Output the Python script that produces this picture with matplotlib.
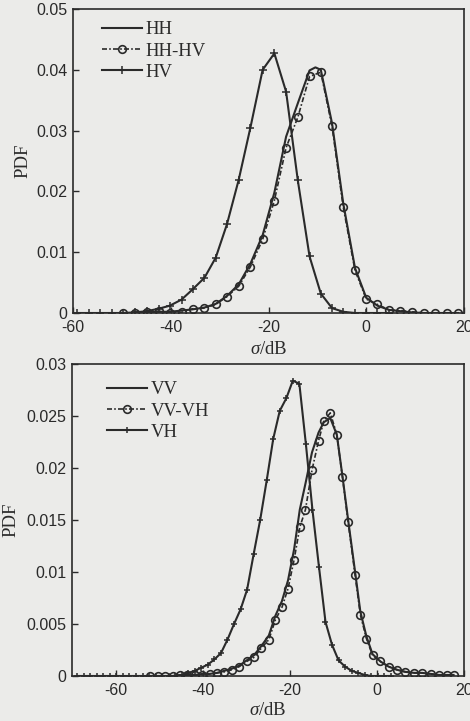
import matplotlib
matplotlib.use("Agg")
import matplotlib.pyplot as plt
from matplotlib.ticker import FixedLocator, FixedFormatter

# ---------------- data: top panel ----------------
hv_x = [-59.1, -56.7, -54.4, -52.0, -49.7, -47.3, -44.9, -42.5, -40.2, -37.8,
        -35.5, -33.1, -30.8, -28.5, -26.1, -23.7, -21.2, -18.8, -16.4, -14.0,
        -11.6, -9.3, -7.0, -4.7, -2.3, 0.0, 2.3, 4.7]
hv_y = [0, 0, 0, 0, 0, 0.0001, 0.0003, 0.0007, 0.0012, 0.0022,
        0.0039, 0.0058, 0.0091, 0.0146, 0.0219, 0.0305, 0.0400, 0.0427, 0.0364, 0.0218,
        0.0093, 0.0032, 0.0008, 0.0002, 0, 0, 0, 0]

hhhv_x = [-49.7, -47.3, -44.9, -42.5, -40.2, -37.8, -35.5, -33.1, -30.8, -28.5,
          -26.1, -23.7, -21.2, -18.8, -16.4, -14.0, -11.6, -9.3, -7.0, -4.7,
          -2.3, 0.0, 2.3, 4.7, 7.0, 9.4, 11.8, 14.1, 16.5, 18.8]
hhhv_y = [0, 0, 0.0002, 0.0003, 0.0, 0.0001, 0.0007, 0.0008, 0.0014, 0.0027,
          0.0044, 0.0076, 0.0121, 0.0185, 0.0272, 0.0322, 0.0389, 0.0396, 0.0307, 0.0174,
          0.0070, 0.0023, 0.0014, 0.0005, 0.0004, 0.0002, 0, 0, 0, 0]

hh_x = [-49.7, -47.3, -44.9, -42.5, -40.2, -37.8, -35.5, -33.1, -30.8, -28.5,
        -26.1, -23.7, -21.2, -18.8, -16.4, -14.0, -11.6, -10.4, -9.3, -7.0, -4.7,
        -2.3, 0.0, 2.3, 4.7, 7.0, 9.4, 11.8, 14.1, 16.5, 18.8]
hh_y = [0, 0, 0.0001, 0.0002, 0.0002, 0.0004, 0.0006, 0.0009, 0.0015, 0.0028,
        0.0047, 0.0081, 0.0128, 0.0198, 0.0290, 0.0345, 0.0399, 0.0404, 0.0400, 0.0312, 0.0180,
        0.0074, 0.0025, 0.0012, 0.0005, 0.0003, 0.0001, 0, 0, 0, 0]

# ---------------- data: bottom panel ----------------
vh_x = [-68.8, -67.3, -65.8, -64.3, -62.8, -61.3, -59.8, -58.3, -56.8, -55.3,
        -53.8, -52.3, -50.8, -49.3, -47.8, -46.3, -44.8, -43.3, -41.8, -40.3,
        -38.8, -37.3, -35.8, -34.3, -32.8, -31.3, -29.8, -28.3, -26.8, -25.3,
        -23.8, -22.3, -20.8, -19.3, -17.8, -16.3, -14.8, -13.3, -11.8, -10.3,
        -8.8, -7.3, -5.8, -4.3, -2.8, -1.3, 0.2, 1.7, 3.2]
vh_y = [0, 0, 0, 0, 0, 0, 0, 0, 0, 0,
        0, 0, 0, 0, 0, 0, 0.0001, 0.0003, 0.0005, 0.0008,
        0.0011, 0.0016, 0.0022, 0.0035, 0.0050, 0.0064, 0.0083, 0.0117, 0.0150, 0.0188,
        0.0228, 0.0255, 0.0267, 0.0284, 0.0281, 0.0223, 0.0160, 0.0105, 0.0052, 0.0030,
        0.0015, 0.0009, 0.0005, 0.0003, 0.0001, 0, 0, 0, 0]

vvvh_x = [-52.0, -50.3, -48.6, -46.9, -45.2, -43.5, -41.8, -40.1, -38.4, -36.7,
          -35.0, -33.3, -31.6, -29.9, -28.2, -26.5, -24.8, -23.3, -21.8, -20.4,
          -19.0, -17.7, -16.4, -14.9, -13.4, -12.2, -10.7, -9.2, -7.9, -6.6,
          -5.0, -3.8, -2.4, -1.0, 0.8, 2.7, 4.6, 6.5, 8.5, 10.4,
          12.4, 14.3, 16.2, 17.6]
vvvh_y = [0, 0, 0, 0, 0.0001, 0.0001, 0.0001, 0.0001, 0.0002, 0.0003,
          0.0004, 0.0006, 0.0009, 0.0014, 0.0018, 0.0027, 0.0035, 0.0054, 0.0066, 0.0084,
          0.0112, 0.0143, 0.0160, 0.0198, 0.0226, 0.0245, 0.0253, 0.0232, 0.0191, 0.0148,
          0.0097, 0.0059, 0.0036, 0.0020, 0.0014, 0.0009, 0.0006, 0.0004, 0.0003, 0.0003,
          0.0002, 0.0001, 0.0001, 0.0001]

vv_x = vvvh_x
vv_y = [0, 0, 0, 0, 0.0001, 0.0001, 0.0001, 0.0002, 0.0002, 0.0003,
        0.0005, 0.0007, 0.0010, 0.0015, 0.0020, 0.0029, 0.0039, 0.0058, 0.0072, 0.0092,
        0.0122, 0.0160, 0.0185, 0.0215, 0.0234, 0.0244, 0.0248, 0.0232, 0.0192, 0.0150,
        0.0100, 0.0062, 0.0038, 0.0021, 0.0014, 0.0009, 0.0006, 0.0004, 0.0003, 0.0003,
        0.0002, 0.0001, 0.0001, 0.0001]

top_labels = ["HH", "HH-HV", "HV"]
bot_labels = ["VV", "VV-VH", "VH"]
xticks = [-60, -40, -20, 0, 20]
xtick_labels = ["-60", "-40", "-20", "0", "20"]
top_yticks = [0, 0.01, 0.02, 0.03, 0.04, 0.05]
top_ytick_labels = ["0", "0.01", "0.02", "0.03", "0.04", "0.05"]
bot_yticks = [0, 0.005, 0.01, 0.015, 0.02, 0.025, 0.03]
bot_ytick_labels = ["0", "0.005", "0.01", "0.015", "0.02", "0.025", "0.03"]

# ---------------- style ----------------
BG = "#ebebe9"
INK = "#2a2a2a"
SERIF = ["Liberation Serif", "DejaVu Serif"]
SANS = ["Liberation Sans", "DejaVu Sans"]
DASHDOT = (0, (3, 1.3, 1, 1.3))

plt.rcParams["mathtext.fontset"] = "custom"
plt.rcParams["mathtext.it"] = "Liberation Serif:italic"
plt.rcParams["mathtext.rm"] = "Liberation Serif"

fig = plt.figure(figsize=(4.70, 7.21), dpi=100, facecolor=BG)
W, H = 470.0, 721.0


def make_axes(l, t, r, b):
    return fig.add_axes([l / W, 1 - b / H, (r - l) / W, (b - t) / H], facecolor=BG)


def style(ax, xlim, ylim, yt, ytl, ylab_x, xlab_pad):
    ax.set_xlim(*xlim)
    ax.set_ylim(*ylim)
    ax.xaxis.set_major_locator(FixedLocator(xticks))
    ax.xaxis.set_major_formatter(FixedFormatter(xtick_labels))
    ax.yaxis.set_major_locator(FixedLocator(yt))
    ax.yaxis.set_major_formatter(FixedFormatter(ytl))
    ax.tick_params(direction="in", length=4, width=1, colors=INK, labelsize=11.5,
                   top=False, right=False)
    ax.tick_params(axis="x", pad=5)
    ax.tick_params(axis="y", pad=4)
    for lab in ax.get_xticklabels() + ax.get_yticklabels():
        lab.set_family(SANS)
    for s in ax.spines.values():
        s.set_color(INK)
        s.set_linewidth(1.2)
    ax.set_xlabel(r"$\sigma$/dB", family=SERIF, fontsize=13.5, color=INK,
                  labelpad=xlab_pad)
    ax.set_ylabel("PDF", family=SERIF, fontsize=13.5, color=INK)
    ax.yaxis.set_label_coords(ylab_x, 0.5)


def draw(ax, a_x, a_y, b_x, b_y, c_x, c_y, labels, ms_c, ms_p):
    ax.plot(a_x, a_y, color=INK, lw=1.5, label=labels[0])
    ax.plot(b_x, b_y, color=INK, lw=1.2, ls=DASHDOT, marker="o", ms=ms_c,
            mfc="none", mec=INK, mew=1.2, label=labels[1])
    ax.plot(c_x, c_y, color=INK, lw=1.5, marker="+", ms=ms_p, mew=1.1,
            label=labels[2])


def legend(ax, anchor):
    lg = ax.legend(loc="upper left", bbox_to_anchor=anchor, frameon=False,
                   prop={"family": SERIF, "size": 13.5}, handlelength=2.1,
                   handletextpad=0.2, labelspacing=0.22, borderaxespad=0,
                   borderpad=0)
    for t in lg.get_texts():
        t.set_color(INK)
    return lg


# top panel
ax1 = make_axes(73, 9, 464, 313)
draw(ax1, hh_x, hh_y, hhhv_x, hhhv_y, hv_x, hv_y, top_labels, 5.5, 6)
style(ax1, (-60, 20), (0, 0.05), top_yticks, top_ytick_labels, -0.107, 4)
legend(ax1, (0.075, 0.96))

# bottom panel
ax2 = make_axes(72, 364, 464, 676)
draw(ax2, vv_x, vv_y, vvvh_x, vvvh_y, vh_x, vh_y, bot_labels, 5.5, 5)
style(ax2, (-70, 20), (0, 0.03), bot_yticks, bot_ytick_labels, -0.135, 3)
legend(ax2, (0.09, 0.945))

fig.savefig("out.png", dpi=100, facecolor=BG)
